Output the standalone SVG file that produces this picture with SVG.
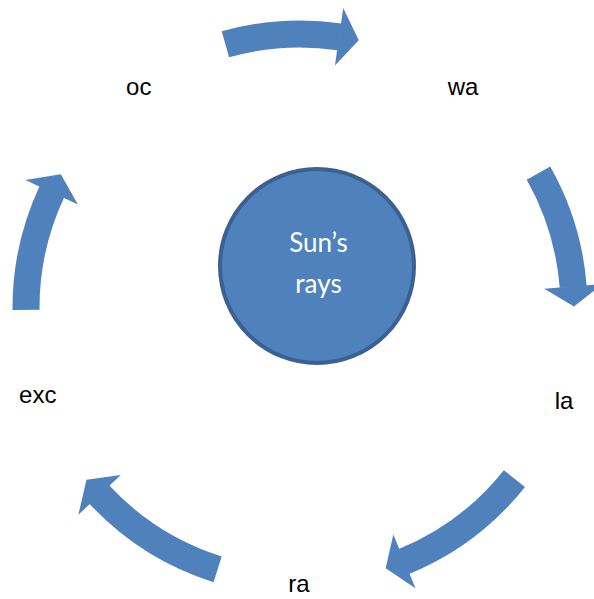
<svg xmlns="http://www.w3.org/2000/svg" xmlns:xlink="http://www.w3.org/1999/xlink" width="594" height="599" viewBox="0 0 594 599">
  <style>
    .shaft { fill: none; stroke: #4f81bd; stroke-width: 27; }
    .head { fill: #4f81bd; }
    .label { font-family: "Liberation Sans", Arial, sans-serif; font-size: 24px; fill: #000; text-anchor: middle; }
    .hub { fill: #4f81bd; stroke: #3a6191; stroke-width: 4; }
    .hub-text { font-family: Lato, "Open Sans", sans-serif; font-size: 26px; fill: #fff; text-anchor: middle; }
  </style>
  <defs>
    <!-- arrowhead at angle 0 on the ring around (300,308); rotate to place -->
    <polygon id="head" class="head" points="545,308 603,308 573.3,328"/>
  </defs>

  <rect width="594" height="599" fill="#fff"/>

  <!-- curved block arrows: ring r=274 around (300,308), clockwise -->
  <g id="connectors">
    <g id="arrow-oc-wa">
      <circle class="shaft" cx="300" cy="308" r="274" stroke-dasharray="115.3 2000" transform="rotate(254.2 300 308)"/>
      <use xlink:href="#head" transform="rotate(278.2 300 308)"/>
    </g>
    <g id="arrow-wa-la">
      <circle class="shaft" cx="300" cy="308" r="274" stroke-dasharray="120 2000" transform="rotate(330.5 300 308)"/>
      <use xlink:href="#head" transform="rotate(355.5 300 308)"/>
    </g>
    <g id="arrow-la-ra">
      <circle class="shaft" cx="300" cy="308" r="274" stroke-dasharray="139.7 2000" transform="rotate(38.5 300 308)"/>
      <use xlink:href="#head" transform="rotate(67.6 300 308)"/>
    </g>
    <g id="arrow-ra-exc">
      <circle class="shaft" cx="300" cy="308" r="274" stroke-dasharray="141.6 2000" transform="rotate(107.5 300 308)"/>
      <use xlink:href="#head" transform="rotate(137 300 308)"/>
    </g>
    <g id="arrow-exc-oc">
      <circle class="shaft" cx="300" cy="308" r="274" stroke-dasharray="122 2000" transform="rotate(179.6 300 308)"/>
      <use xlink:href="#head" transform="rotate(205 300 308)"/>
    </g>
  </g>

  <!-- central node -->
  <g id="sun">
    <circle class="hub" cx="317" cy="266" r="97"/>
    <text class="hub-text" x="318.5" y="251.5">Sun’s</text>
    <text class="hub-text" x="318.5" y="292.5">rays</text>
  </g>

  <!-- cycle stages -->
  <g id="node-oc"><text class="label" x="138.8" y="95">oc</text></g>
  <g id="node-wa"><text class="label" x="463" y="95">wa</text></g>
  <g id="node-la"><text class="label" x="564" y="408.5">la</text></g>
  <g id="node-ra"><text class="label" x="299" y="592">ra</text></g>
  <g id="node-exc"><text class="label" x="37.8" y="402.5">exc</text></g>
</svg>
